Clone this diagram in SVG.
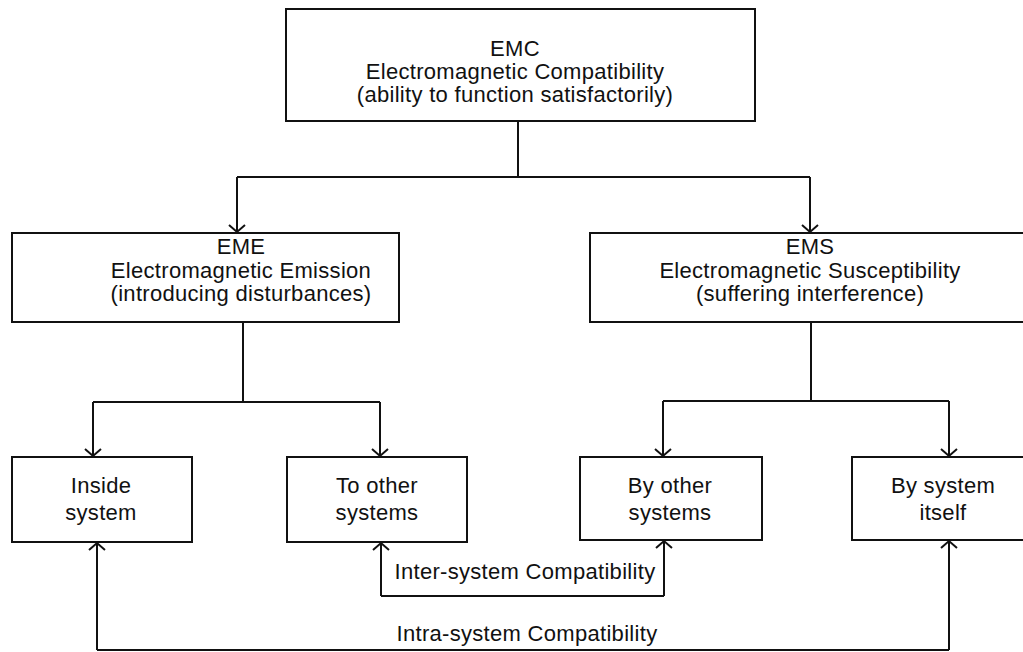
<svg xmlns="http://www.w3.org/2000/svg" width="1023" height="652" viewBox="0 0 1023 652">
<style>
.box{fill:#fff;stroke:#111;stroke-width:2}
.t{font-family:"Liberation Sans",Arial,sans-serif;font-size:22px;letter-spacing:0.3px;fill:#111;text-anchor:middle}
.c{fill:none;stroke:#111;stroke-width:2}
</style>
<defs>
<marker id="ah" markerUnits="userSpaceOnUse" markerWidth="20" markerHeight="20" refX="10" refY="10" orient="auto" viewBox="0 0 20 20">
<path d="M3,2 L10,10 L3,18" fill="none" stroke="#111" stroke-width="2"/>
</marker>
</defs>
<rect width="1023" height="652" fill="#fff"/>
<g id="connectors">
<path class="c" d="M518,121 V177"/>
<path class="c" d="M237,177 H810"/>
<path class="c" d="M237,177 V232" marker-end="url(#ah)"/>
<path class="c" d="M810,177 V232" marker-end="url(#ah)"/>
<path class="c" d="M243,322 V402"/>
<path class="c" d="M93,402 H380"/>
<path class="c" d="M93,402 V456" marker-end="url(#ah)"/>
<path class="c" d="M380,402 V456" marker-end="url(#ah)"/>
<path class="c" d="M811,322 V401"/>
<path class="c" d="M663,401 H949"/>
<path class="c" d="M663,401 V456" marker-end="url(#ah)"/>
<path class="c" d="M949,401 V456" marker-end="url(#ah)"/>
<path class="c" d="M381,596 H664"/>
<path class="c" d="M381,596 V543" marker-end="url(#ah)"/>
<path class="c" d="M664,596 V541" marker-end="url(#ah)"/>
<path class="c" d="M97,650 H949"/>
<path class="c" d="M97,650 V543" marker-end="url(#ah)"/>
<path class="c" d="M949,650 V541" marker-end="url(#ah)"/>
<text class="t" x="525" y="579">Inter-system Compatibility</text>
<text class="t" x="527" y="641">Intra-system Compatibility</text>
</g>
<g id="emc">
<rect class="box" x="286" y="9" width="469" height="112"/>
<text class="t" x="515" y="56">EMC</text>
<text class="t" x="515" y="79">Electromagnetic Compatibility</text>
<text class="t" x="515" y="102">(ability to function satisfactorily)</text>
</g>
<g id="eme">
<rect class="box" x="12" y="233" width="387" height="89"/>
<text class="t" x="241" y="254">EME</text>
<text class="t" x="241" y="278">Electromagnetic Emission</text>
<text class="t" x="241" y="301">(introducing disturbances)</text>
</g>
<g id="ems">
<rect class="box" x="590" y="233" width="445" height="89"/>
<text class="t" x="810" y="254">EMS</text>
<text class="t" x="810" y="278">Electromagnetic Susceptibility</text>
<text class="t" x="810" y="301">(suffering interference)</text>
</g>
<g id="inside">
<rect class="box" x="12" y="457" width="180" height="85"/>
<text class="t" x="101" y="493">Inside</text>
<text class="t" x="101" y="520">system</text>
</g>
<g id="toother">
<rect class="box" x="287" y="457" width="180" height="85"/>
<text class="t" x="377" y="493">To other</text>
<text class="t" x="377" y="520">systems</text>
</g>
<g id="byother">
<rect class="box" x="580" y="457" width="182" height="83"/>
<text class="t" x="670" y="493">By other</text>
<text class="t" x="670" y="520">systems</text>
</g>
<g id="byitself">
<rect class="box" x="852" y="457" width="185" height="83"/>
<text class="t" x="943" y="493">By system</text>
<text class="t" x="943" y="520">itself</text>
</g>
</svg>
